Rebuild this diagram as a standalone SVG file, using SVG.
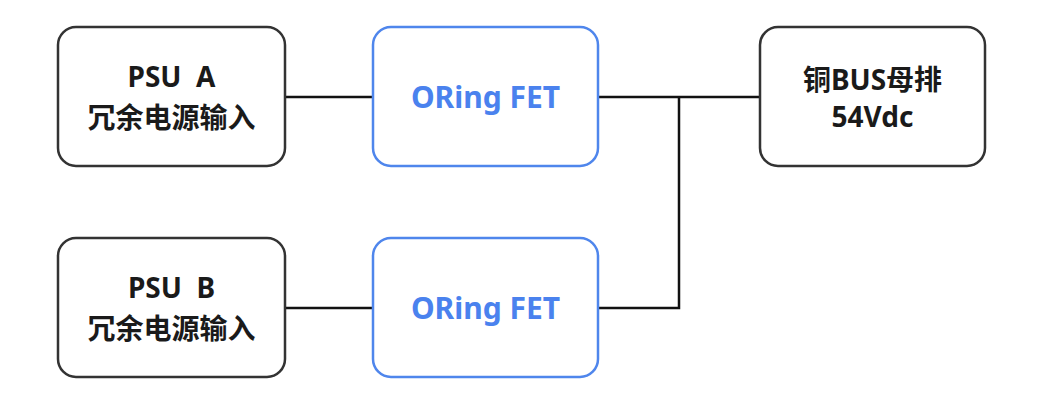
<svg xmlns="http://www.w3.org/2000/svg" width="1054" height="405" viewBox="0 0 1054 405">
<style>
.box{fill:#fff;stroke:#333;stroke-width:2.5}
.fet{fill:#fff;stroke:#4f86ec;stroke-width:2.5}
.t{font-family:"Noto Sans","Noto Sans CJK SC",sans-serif;font-weight:bold;font-size:28px;fill:#1a1a1a;text-anchor:middle}
.tb{font-family:"Noto Sans","Noto Sans CJK SC",sans-serif;font-weight:bold;font-size:30px;fill:#4a82ee;text-anchor:middle}
.ln{fill:none;stroke:#111;stroke-width:2.5}
</style>
<rect width="1054" height="405" fill="#fff"/>
<g id="connectors">
<path class="ln" d="M285 97H373"/>
<path class="ln" d="M598 97H760"/>
<path class="ln" d="M598 308H679V97"/>
<path class="ln" d="M285 308H373"/>
</g>
<g id="psuA">
<rect class="box" x="58" y="27" width="227" height="139" rx="18"/>
<text class="t" x="171.5" y="87">PSU&#160; A</text>
<text class="t" x="171.5" y="128">冗余电源输入</text>
</g>
<g id="fetA">
<rect class="fet" x="373" y="27" width="225" height="139" rx="18"/>
<text class="tb" x="485.5" y="108">ORing FET</text>
</g>
<g id="bus">
<rect class="box" x="760" y="27" width="225" height="139" rx="18"/>
<text class="t" x="872.5" y="90">铜BUS母排</text>
<text class="t" x="872.5" y="127">54Vdc</text>
</g>
<g id="psuB">
<rect class="box" x="58" y="238" width="227" height="139" rx="18"/>
<text class="t" x="171.5" y="298">PSU&#160; B</text>
<text class="t" x="171.5" y="339">冗余电源输入</text>
</g>
<g id="fetB">
<rect class="fet" x="373" y="238" width="225" height="139" rx="18"/>
<text class="tb" x="485.5" y="319">ORing FET</text>
</g>
</svg>
